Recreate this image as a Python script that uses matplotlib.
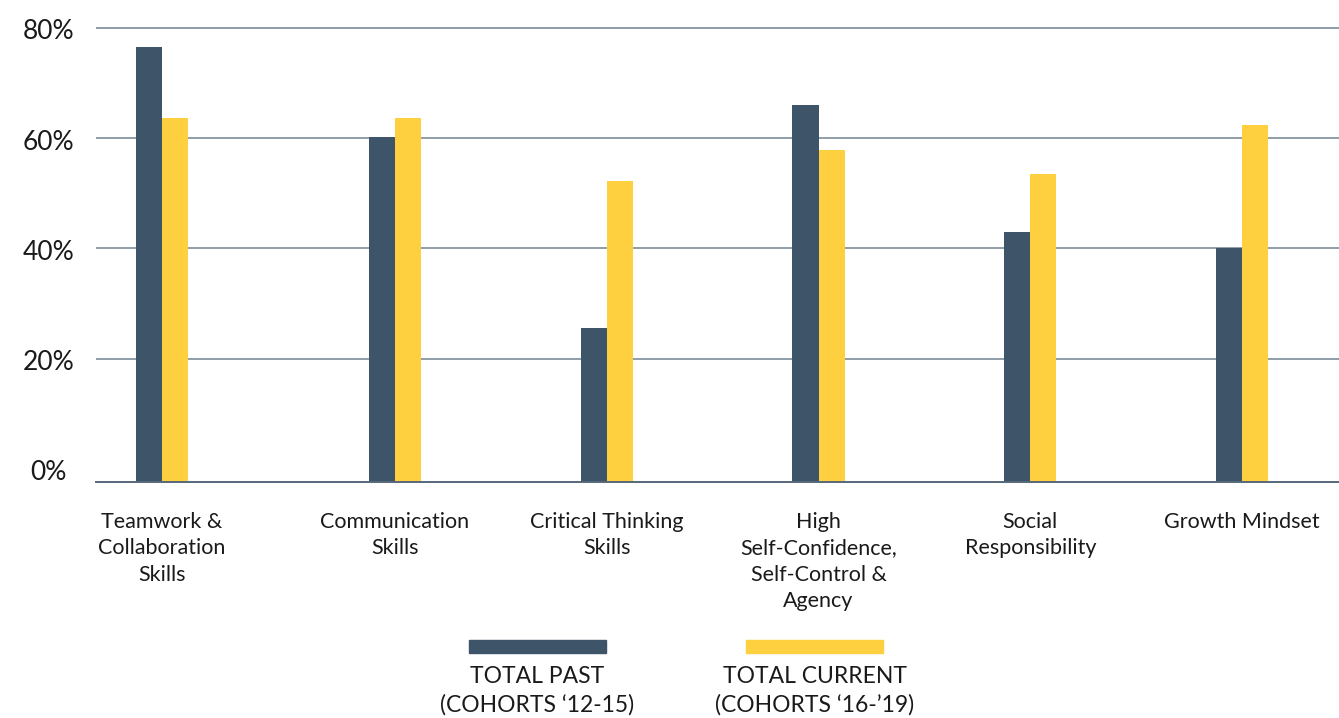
import numpy as np
import matplotlib
matplotlib.use("Agg")
import matplotlib.pyplot as plt
import matplotlib.transforms as mtransforms
from matplotlib.patches import Rectangle

plt.rcParams['font.family'] = ['Lato', 'DejaVu Sans']

categories = ["Teamwork &\nCollaboration\nSkills", "Communication\nSkills",
              "Critical Thinking\nSkills", "High\nSelf-Confidence,\nSelf-Control &\nAgency",
              "Social\nResponsibility", "Growth Mindset"]
past = [76.5, 60.3, 25.5, 66.0, 43.0, 40.0]
current = [63.6, 63.6, 52.2, 57.8, 53.5, 62.4]
yticks = [0, 20, 40, 60, 80]
ytick_labels = ["0%", "20%", "40%", "60%", "80%"]
series_names = ["TOTAL PAST\n(COHORTS \u201812-15)", "TOTAL CURRENT\n(COHORTS \u201816-\u201919)"]

C_PAST = "#3e5468"
C_CUR = "#fecf3e"
GRID = "#8796a4"

W, H = 1339, 718
fig = plt.figure(figsize=(W / 100, H / 100), dpi=100)
ax_left, ax_right = 96, 1339
ax_top, ax_bot = 20, 481.7
ax = fig.add_axes([ax_left / W, 1 - ax_bot / H, (ax_right - ax_left) / W, (ax_bot - ax_top) / H])

ymin, ymax = -2.34, 81.45
ax.set_ylim(ymin, ymax)

xpos = np.array([0, 1.1, 2.1, 3.1, 4.1, 5.1])
bw = 0.123
ax.set_xlim(-0.312, 5.558)

for y in yticks[1:]:
    ax.axhline(y, color=GRID, lw=1.3, zorder=1)

pv = np.array(past)
cv = np.array(current)
ax.bar(xpos - bw / 2, pv - ymin, bw, bottom=ymin, color=C_PAST, zorder=2)
ax.bar(xpos + bw / 2, cv - ymin, bw, bottom=ymin, color=C_CUR, zorder=2)

for s in ["top", "right", "left"]:
    ax.spines[s].set_visible(False)
ax.spines["bottom"].set_color("#56687a")
ax.spines["bottom"].set_linewidth(1.4)

ax.set_yticks(yticks)
ax.set_yticklabels(ytick_labels, fontsize=19, color="#1a1a1a")
ax.tick_params(axis="y", length=0, pad=34)
offset = mtransforms.ScaledTranslation(0, -1.5 / 100, fig.dpi_scale_trans)
for lab in ax.get_yticklabels():
    lab.set_horizontalalignment("center")
    lab.set_transform(lab.get_transform() + offset)

ax.set_xticks(xpos)
ax.set_xticklabels(categories, fontsize=15.5, color="#1a1a1a", linespacing=1.41)
ax.tick_params(axis="x", length=0, pad=21.5)

# legend
legend_cols = [C_PAST, C_CUR]
legend_cx = [537, 815]
for name, col, cx in zip(series_names, legend_cols, legend_cx):
    fig.patches.append(Rectangle(((cx - 68.5) / W, 1 - 653 / H), 137 / W, 13 / H,
                                 transform=fig.transFigure, color=col))
    fig.text(cx / W, 1 - 666 / H, name, ha="center", va="top", fontsize=16.5,
             color="#1a1a1a", linespacing=1.38)

fig.savefig("out.png", dpi=100)
